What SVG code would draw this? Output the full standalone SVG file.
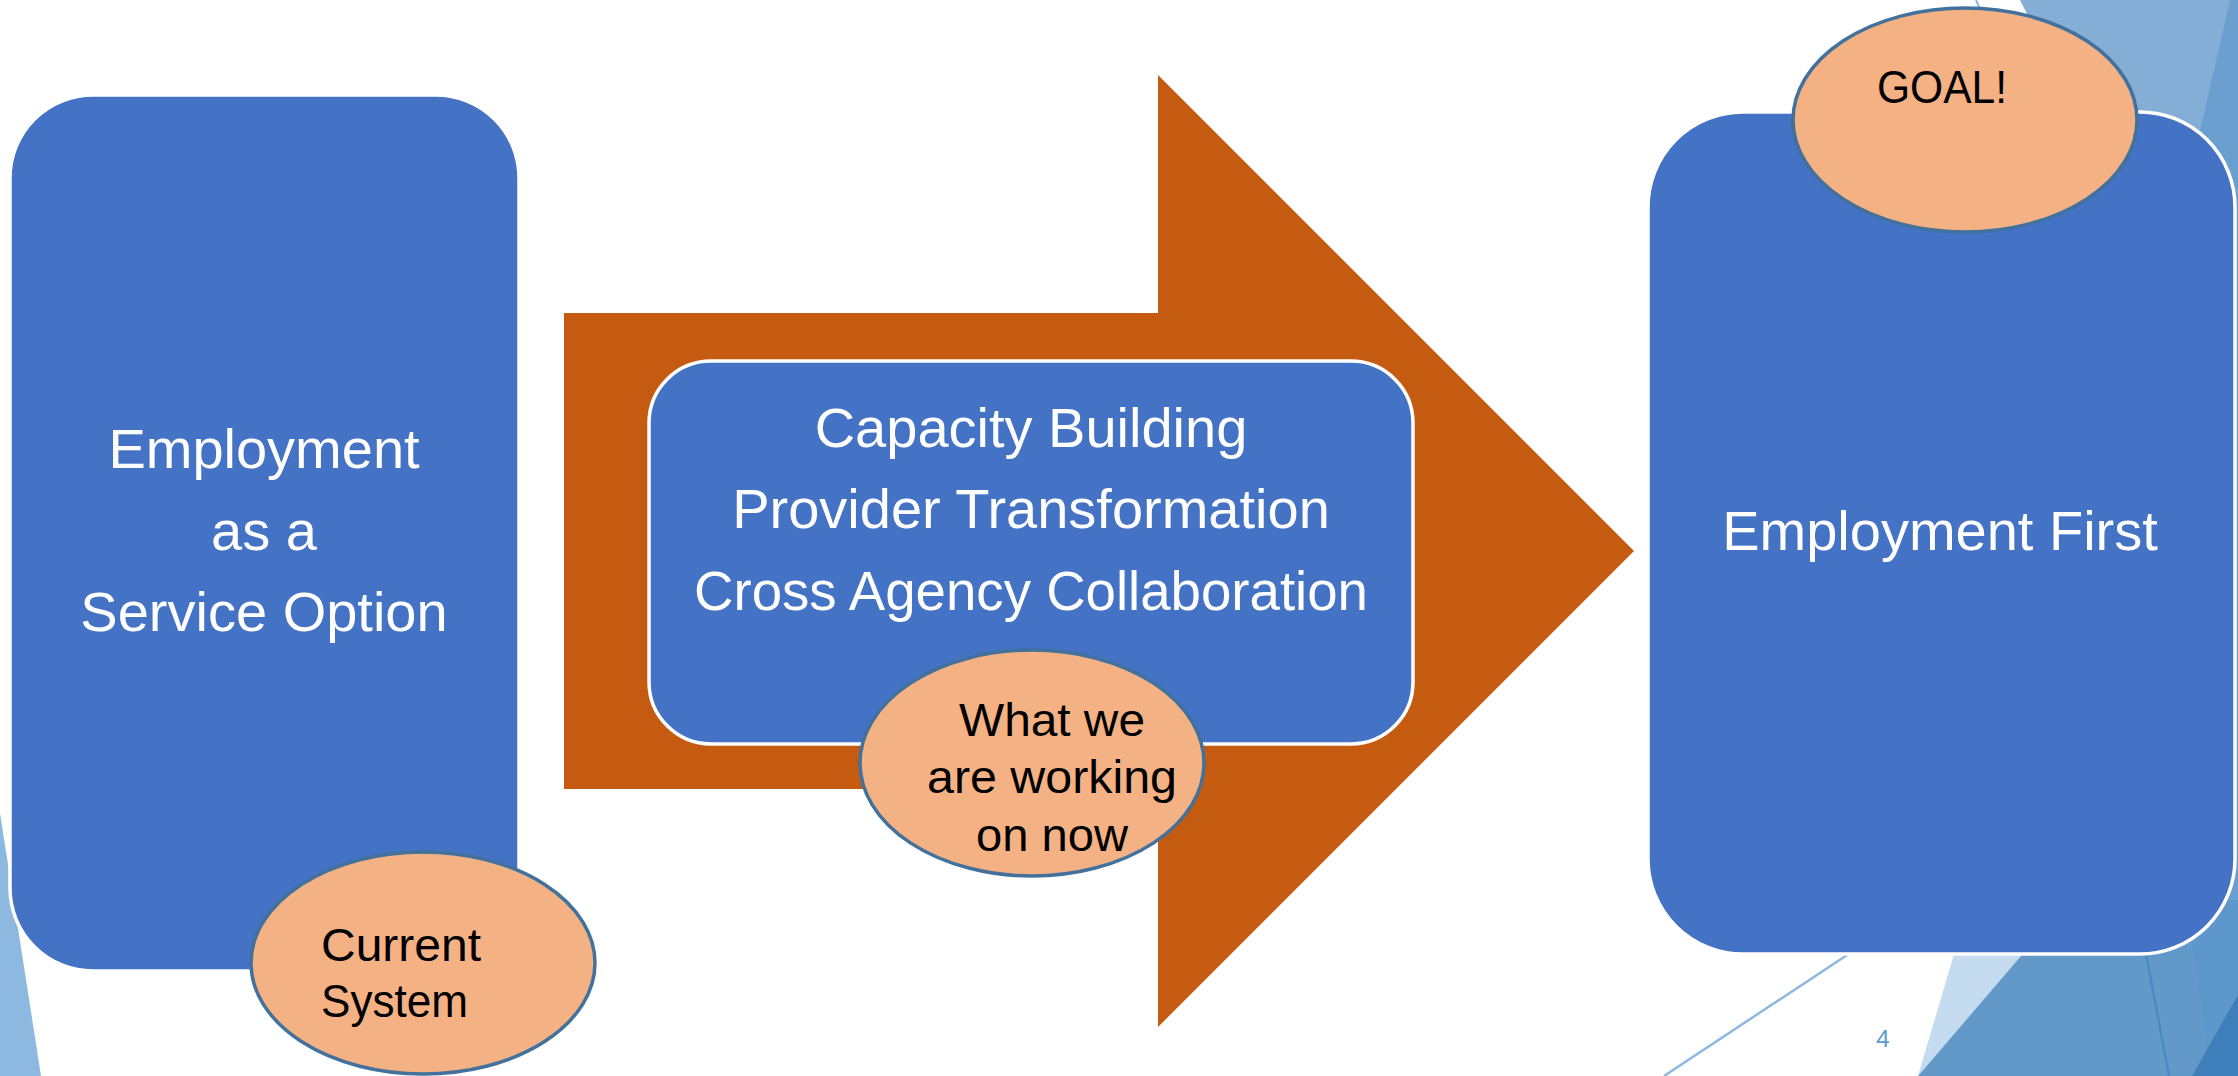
<svg xmlns="http://www.w3.org/2000/svg" width="2238" height="1076" viewBox="0 0 2238 1076">
<style>
.box{fill:#4472C4;stroke:#FFFFFF;stroke-width:3.5}
.oval{fill:#F4B183;stroke:#41719C;stroke-width:3.5}
.wt{font-family:"Liberation Sans",Arial,sans-serif;font-size:56px;fill:#FFFFFF;text-anchor:middle}
.bt{font-family:"Liberation Sans",Arial,sans-serif;font-size:47px;fill:#000000}
</style>
<rect width="2238" height="1076" fill="#FFFFFF"/>
<g id="background">
<polygon points="0,813 41,1076 0,1076" fill="#8DB8E0"/>
<line x1="1976" y1="0" x2="1983" y2="16" stroke="#8DB8E0" stroke-width="2"/>
<polygon points="2020,0 2238,0 2238,450 2100,160" fill="#85AED6"/>
<polygon points="2230,0 2238,0 2238,1076 2150,1076 2190,175" fill="#6B9FCF"/>
<polygon points="1970,900 2069,900 1918,1076" fill="#C5DBEF"/>
<polygon points="2069,900 2238,900 2238,1076 1918,1076" fill="#6399C9"/>
<polygon points="2186,900 2238,900 2238,1076 2212,1076" fill="#5E97CB"/>
<line x1="2136" y1="900" x2="2169" y2="1076" stroke="#4C89C2" stroke-width="2.5"/>
<polygon points="2238,995 2192,1076 2238,1076" fill="#3D7EBB"/>
<line x1="1664" y1="1076" x2="1900" y2="920" stroke="#8DB8E0" stroke-width="2.5"/>
<text x="1883" y="1047" font-family="Liberation Sans,Arial,sans-serif" font-size="24" fill="#5B9BD5" text-anchor="middle">4</text>
</g>
<g id="current-box">
<rect class="box" x="10" y="95" width="509" height="876" rx="83" ry="83"/>
<text class="wt" x="264" y="468">Employment</text>
<text class="wt" x="264" y="550">as a</text>
<text class="wt" x="264" y="631">Service Option</text>
</g>
<g id="connectors">
<polygon id="arrow" points="564,313 1158,313 1158,75 1634,551 1158,1027 1158,789 564,789" fill="#C55A11"/>
</g>
<g id="working-box">
<rect class="box" x="649" y="361" width="764" height="383" rx="62" ry="62"/>
<text class="wt" x="1031" y="447">Capacity Building</text>
<text class="wt" x="1031" y="528">Provider Transformation</text>
<text class="wt" x="1031" y="610" textLength="674" lengthAdjust="spacingAndGlyphs">Cross Agency Collaboration</text>
</g>
<g id="working-label">
<ellipse class="oval" cx="1032" cy="763" rx="172" ry="113"/>
<text class="bt" x="1052" y="736" text-anchor="middle" textLength="186" lengthAdjust="spacingAndGlyphs">What we</text>
<text class="bt" x="1052" y="793" text-anchor="middle" textLength="250" lengthAdjust="spacingAndGlyphs">are working</text>
<text class="bt" x="1052" y="851" text-anchor="middle" textLength="152" lengthAdjust="spacingAndGlyphs">on now</text>
</g>
<g id="current-label">
<ellipse class="oval" cx="423" cy="963" rx="172" ry="111"/>
<text class="bt" x="321" y="961" textLength="160" lengthAdjust="spacingAndGlyphs">Current</text>
<text class="bt" x="321" y="1017" textLength="147" lengthAdjust="spacingAndGlyphs">System</text>
</g>
<g id="goal-box">
<rect class="box" x="1648" y="112" width="587" height="842" rx="95" ry="95"/>
<text class="wt" x="1940" y="550">Employment First</text>
</g>
<g id="goal-label">
<ellipse class="oval" cx="1965" cy="120" rx="172" ry="112"/>
<text class="bt" x="1942" y="103" text-anchor="middle" textLength="130" lengthAdjust="spacingAndGlyphs">GOAL!</text>
</g>
</svg>
